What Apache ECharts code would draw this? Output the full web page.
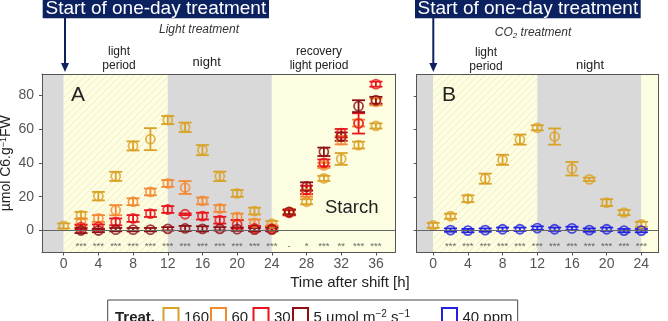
<!DOCTYPE html>
<html><head><meta charset="utf-8">
<script src="https://cdn.jsdelivr.net/npm/echarts@6/dist/echarts.min.js"></script>
<style>html,body{margin:0;padding:0;background:#fff}#c{width:668px;height:321px}</style>
</head><body><div id="c"></div>
<script>
// ---------- data ----------
const timesA = [0,2,4,6,8,10,12,14,16,18,20,22,24,26,28,30,32,34,36];
const a160  = [2.7,9,20.3,32,50,54,65.3,61,47.5,32,21.9,11.5,4.1,11,17,30.8,42.3,50.5,61.8];
const a160e = [1.5,2,2.5,2.7,2.7,6.5,2.4,2.8,3,2.8,2,2,1.5,1.2,1.5,1.5,3.5,2,1.5];
const a60   = [null,5,7.1,12,17,22.8,27.8,25.4,17.5,13,8,4.5,1.5,10.5,22,38.5,53.4,63.5,76];
const a60e  = [null,2,2,3,2,2,2,3.8,2,2,2,2,1.5,1.5,2,1.5,2.5,2,2];
const a30   = [null,2,2.1,5.1,7.1,10,12.4,9.6,8.5,6.1,3.7,1.2,1,10.5,24,40,57.5,63.3,86.5];
const a30e  = [null,1.5,1.5,2,2,2,2,0.5,2,2,2.5,1.5,1,1.5,2.5,2,2.5,6,1.5];
const a5    = [null,0,0,0.5,0.5,0.5,1,1.2,1,1,0.8,0.5,0.5,11,26,46.5,55.5,73.5,77];
const a5e   = [null,1.5,1,1,1,1,1,1.5,1.5,1,1,1,1,1.5,2.5,2.5,2.5,3.5,2];
const starsA = ['','***','***','***','***','***','***','***','***','***','***','***','***','-','*','***','**','***','***'];

const timesB = [0,2,4,6,8,10,12,14,16,18,20,22,24];
const b160  = [3.1,8.5,18.9,30.8,42,54,61,55.8,36.7,30.4,16.6,10.7,3.7];
const b160e = [1.5,1.5,2,3,3,3,1.5,4.8,4,1,2,1.5,1.5];
const b40   = [null,0.3,0,0.3,0.8,0.8,1.5,0.8,1.3,0.3,0.8,0,0];
const b40e  = [null,1,1,1,1,1,1,1,1,1,1,1,1];
const starsB = ['','***','***','***','***','***','***','***','***','***','***','***','***'];

const ticksA = [0,4,8,12,16,20,24,28,32,36];
const ticksB = [0,4,8,12,16,20,24];
const ticksY = [0,20,40,60,80];

const legendItems = [
  {name:'160', color:'#d9a227'},
  {name:'60', color:'#f28a33'},
  {name:'30', color:'#e8141c'},
  {name:'5 µmol m{sup|−2} s{sup|−1}', color:'#8e0f14'},
  {name:'40 ppm', color:'#2222e0'}
];
const C160='#d9a227', C60='#f28a33', C30='#e8141c', C5='#8e0f14', C40='#2222e0';

// ---------- styling ----------
const FONT = "'Liberation Sans', Arial, sans-serif";
const GRAY = '#d9d9d9', YEL = '#fdfde2';
const pat = document.createElement('canvas');
pat.width = 7; pat.height = 7;
(function(){
  const g = pat.getContext('2d');
  g.fillStyle = YEL; g.fillRect(0,0,7,7);
  g.strokeStyle = '#f1ecc2'; g.lineWidth = 1;
  g.beginPath();
  g.moveTo(-1,8); g.lineTo(8,-1);
  g.moveTo(-1,1); g.lineTo(1,-1);
  g.moveTo(6,8); g.lineTo(8,6);
  g.stroke();
})();
const HATCH = {image: pat, repeat: 'repeat'};

function errRender(color){
  return function(params, api){
    const t = api.value(0), v = api.value(1), e = api.value(2);
    const hi = api.coord([t, v+e]), lo = api.coord([t, v-e]);
    const hw = 6.5;
    const style = {stroke: color, lineWidth: 1.8, fill: null};
    return {type:'group', children:[
      {type:'line', shape:{x1:hi[0],y1:hi[1],x2:lo[0],y2:lo[1]}, style},
      {type:'line', shape:{x1:hi[0]-hw,y1:hi[1],x2:hi[0]+hw,y2:hi[1]}, style},
      {type:'line', shape:{x1:lo[0]-hw,y1:lo[1],x2:lo[0]+hw,y2:lo[1]}, style}
    ]};
  };
}
function pts(times, vals, errs){
  const out=[];
  times.forEach((t,i)=>{ if(vals[i]!==null) out.push([t, vals[i], errs[i]]); });
  return out;
}
function pair(gi, times, vals, errs, color, extra){
  const d = pts(times, vals, errs);
  const s1 = {type:'custom', xAxisIndex:gi*2, yAxisIndex:gi*2, renderItem: errRender(color),
    data:d, encode:{x:0,y:1}, silent:true, z:3};
  const s2 = Object.assign({type:'scatter', xAxisIndex:gi*2, yAxisIndex:gi*2, data:d.map(p=>[p[0],p[1]]),
    symbol:'circle', symbolSize:9, silent:true, z:4,
    itemStyle:{color:'rgba(0,0,0,0)', borderColor:color, borderWidth:1.8}}, extra||{});
  return [s1, s2];
}
function bg(xmin, xmax){
  return {silent:true, data:[
    [{xAxis:xmin, itemStyle:{color:GRAY}},{xAxis:0}],
    [{xAxis:0, itemStyle:{color:HATCH}},{xAxis:12}],
    [{xAxis:12, itemStyle:{color:GRAY}},{xAxis:24}],
    [{xAxis:24, itemStyle:{color:YEL}},{xAxis:xmax}]
  ]};
}
const zeroLine = {silent:true, symbol:['none','none'], label:{show:false},
  lineStyle:{color:'#666', width:1, type:'solid'}, data:[{yAxis:0}]};
function starSeries(gi, times, stars){
  return {type:'scatter', xAxisIndex:gi*2, yAxisIndex:gi*2, symbolSize:0, silent:true, z:5,
    data: times.map((t,i)=>({value:[t,-7.7], name:stars[i]})),
    label:{show:true, position:'inside', formatter:p=>p.name, fontSize:9.5, color:'#444', fontFamily:FONT, offset:[0,2.5]}};
}

const XA = [-2.5, 38.2], XB = [-1.9, 26.0], YR = [-13, 92.5];
const lineC = '#555';
function xAx(gi, mn, mx, ticks, bottom){
  return {type:'value', gridIndex:gi, min:mn, max:mx, position: bottom?'bottom':'top', z:10,
    axisLine:{show:true, onZero:false, lineStyle:{color:lineC, width:1}},
    axisTick:{show:bottom, customValues:ticks, length:3, lineStyle:{color:lineC}},
    axisLabel:{show:bottom, customValues:ticks, margin:5, fontSize:14, color:'#555', fontFamily:FONT},
    splitLine:{show:false}};
}
function yAx(gi, left, labels){
  const o = {type:'value', gridIndex:gi, min:YR[0], max:YR[1], position: left?'left':'right', z:10,
    axisLine:{show:true, onZero:false, lineStyle:{color:lineC, width:1}},
    axisTick:{show:left, customValues:ticksY, length:3, lineStyle:{color:lineC}},
    axisLabel:{show:left&&labels, customValues:ticksY, margin:8, fontSize:14, color:'#555', fontFamily:FONT},
    splitLine:{show:false}};
  if(left && labels){
    o.name = 'µmol C6.g{sup|−1}FW';
    o.nameLocation = 'middle'; o.nameGap = 28; o.nameMoveOverlap = false;
    o.nameTextStyle = {fontSize:14, color:'#222', fontFamily:FONT,
      rich:{sup:{fontSize:9, verticalAlign:'top', color:'#222', fontFamily:FONT, padding:[0,0,6,0]}}};
  }
  return o;
}

const series = [];
series.push(...pair(0, timesA, a160, a160e, C160, {markArea:bg(XA[0], XA[1]), markLine:zeroLine}));
series.push(...pair(0, timesA, a60, a60e, C60));
series.push(...pair(0, timesA, a30, a30e, C30));
series.push(...pair(0, timesA, a5, a5e, C5));
series.push(starSeries(0, timesA, starsA));
series.push(...pair(1, timesB, b160, b160e, C160, {markArea:bg(XB[0], XB[1]), markLine:zeroLine}));
series.push(...pair(1, timesB, b40, b40e, C40));
series.push(starSeries(1, timesB, starsB));

const NAVY = '#0c2260';
function banner(x0, x1, ax){
  return [
    {type:'rect', shape:{x:x0, y:-2, width:x1-x0, height:20.3}, style:{fill:NAVY}, z:20},
    {type:'text', x:(x0+x1)/2, y:8.5, style:{text:'Start of one-day treatment', fill:'#fff', fontSize:19, fontFamily:FONT, align:'center', verticalAlign:'middle'}, z:21},
    {type:'line', shape:{x1:ax, y1:18, x2:ax, y2:66}, style:{stroke:NAVY, lineWidth:2}, z:20},
    {type:'polygon', shape:{points:[[ax-4,63],[ax+4,63],[ax,72]]}, style:{fill:NAVY}, z:20}
  ];
}
function txt(x, y, text, size, extra){
  return {type:'text', x, y, z:20, style:Object.assign({text, fontSize:size, fontFamily:FONT, fill:'#222', align:'center', verticalAlign:'middle'}, extra||{})};
}
const graphic = [
  ...banner(42.7, 269, 65),
  ...banner(415, 640.7, 433.3),
  txt(199, 29.5, 'Light treatment', 12, {fontStyle:'italic', fill:'#333'}),
  txt(533, 33, 'CO{sub|2} treatment', 12, {fontStyle:'italic', fill:'#333',
    rich:{sub:{fontSize:8, fontStyle:'italic', fill:'#333', fontFamily:FONT, verticalAlign:'bottom', padding:[6,0,0,0]}}}),
  txt(119, 58.5, 'light\nperiod', 12, {lineHeight:13.5}),
  txt(206.7, 62.7, 'night', 13),
  txt(319, 58.5, 'recovery\nlight period', 12, {lineHeight:13.5}),
  txt(486, 59.5, 'light\nperiod', 12, {lineHeight:13.5}),
  txt(590, 65, 'night', 13),
  txt(78, 95, 'A', 21),
  txt(449, 95, 'B', 21),
  txt(351.7, 207.5, 'Starch', 18.5),
  txt(350, 283.3, 'Time after shift [h]', 15),
  {type:'rect', shape:{x:107.7, y:300, width:410, height:30}, style:{fill:'#fff', stroke:'#444', lineWidth:1}, z:20},
  txt(115, 318, 'Treat.', 15, {align:'left', fontWeight:'bold'})
];
const legX = [163.5, 211, 253.5, 293, 442];
legendItems.forEach((it,i)=>{
  graphic.push({type:'rect', z:21, shape:{x:legX[i], y:308, width:15, height:16}, style:{fill:'none', stroke:it.color, lineWidth:2}});
  graphic.push(txt(legX[i]+20.5, 318, it.name, 15, {align:'left', fill:'#222',
    rich:{sup:{fontSize:10, fill:'#222', fontFamily:FONT, verticalAlign:'top', padding:[0,0,7,0]}}}));
});

const chart = echarts.init(document.getElementById('c'), null, {renderer:'canvas'});
chart.setOption({
  animation:false,
  backgroundColor:'#fff',
  textStyle:{fontFamily:FONT},
  grid:[
    {left:42, top:74, width:353, height:178.5, outerBoundsMode:'none', containLabel:false},
    {left:416.7, top:74.7, width:242, height:177.8, outerBoundsMode:'none', containLabel:false}
  ],
  xAxis:[xAx(0,XA[0],XA[1],ticksA,true), xAx(0,XA[0],XA[1],ticksA,false),
         xAx(1,XB[0],XB[1],ticksB,true), xAx(1,XB[0],XB[1],ticksB,false)],
  yAxis:[yAx(0,true,true), yAx(0,false,false), yAx(1,true,false), yAx(1,false,false)],
  series,
  graphic
});
</script>
</body></html>
